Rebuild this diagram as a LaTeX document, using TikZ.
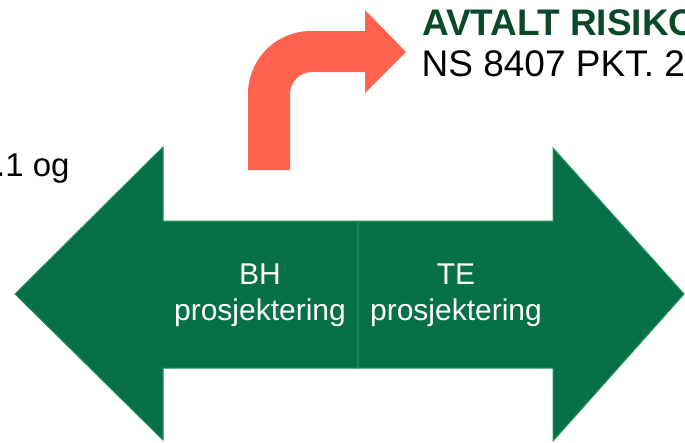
\documentclass[tikz,border=0pt]{standalone}
\usepackage{fontspec}
\setmainfont{Liberation Sans}
\usetikzlibrary{positioning}
\definecolor{arrowgreen}{RGB}{7,112,72}
\definecolor{edgegreen}{RGB}{32,148,88}
\definecolor{headgreen}{RGB}{12,72,42}
\definecolor{coral}{RGB}{255,98,78}

\begin{document}
\begin{tikzpicture}[
    x=1pt, y=-1pt,
    halfarrow/.style={fill=arrowgreen, draw=edgegreen, line width=1pt, line join=miter},
    parttext/.style={text=white, align=center, inner sep=0pt, font=\fontsize{30}{36}\selectfont},
    toptext/.style={anchor=base west, inner sep=0pt, font=\fontsize{37}{43}\selectfont},
]
\useasboundingbox (0,0) rectangle (685,442);
\clip (0,0) rectangle (685,442);

% left and right halves of the double arrow
\draw[halfarrow] (358,221) -- (163,221) -- (163,147) -- (15,294) -- (163,440) -- (163,368) -- (358,368) -- cycle;
\draw[halfarrow] (358,221) -- (553,221) -- (553,148) -- (684,294) -- (553,441) -- (553,368) -- (358,368) -- cycle;

% bent arrow
\fill[coral] (248,170) -- (248,94) arc[start angle=180, end angle=270, radius=63]
    -- (365,31) -- (365,10) -- (406,52) -- (365,93) -- (365,72) -- (312,72)
    arc[start angle=270, end angle=180, radius=22] -- (290,170) -- cycle;

\node[parttext] (bh) at (260,295) {BH\\prosjektering};
\node[parttext] (te) at (456,295) {TE\\prosjektering};

% texts cut by the frame
\node[toptext, text=headgreen, font=\fontsize{37}{43}\selectfont\bfseries] (risiko) at (422,35) {AVTALT RISIKO};
\node[toptext] (ns) at (421.5,76) {NS 8407 PKT. 2};
\node[anchor=base west, inner sep=0pt, font=\fontsize{33}{38}\selectfont] (og) at (-4,176) {.1 og};

\end{tikzpicture}
\end{document}
